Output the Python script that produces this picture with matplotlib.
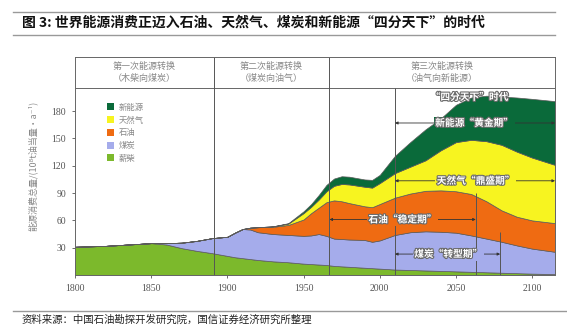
import matplotlib
matplotlib.use('Agg')
import matplotlib.pyplot as plt
import matplotlib.patheffects as pe
from matplotlib.patches import Patch
from matplotlib.lines import Line2D

plt.rcParams['font.family'] = ['Noto Sans CJK SC', 'DejaVu Sans']

# ---------------- data ----------------
years = [1800, 1820, 1850, 1860, 1870, 1880, 1890, 1900, 1905, 1910, 1915, 1920,
         1930, 1940, 1950, 1955, 1960, 1965, 1970, 1975, 1980, 1990, 1995, 2000,
         2010, 2020, 2030, 2040, 2050, 2060, 2070, 2080, 2090, 2100, 2115]
wood = [31, 32, 35, 33.5, 29.5, 26.5, 24, 21, 19.5, 18.5, 17.5, 16.5,
        15, 14, 12.5, 12, 11.5, 11, 10, 9.5, 9, 8, 7.5, 7,
        6, 5.5, 5, 4.5, 4, 3.5, 3, 2.5, 2, 1.5, 1]
coal = [0, 0, 0, 1.5, 6, 11, 16.5, 21, 27, 32, 32.5, 30.5,
        30, 30, 30.5, 31.5, 33.5, 32, 30, 30, 30, 30.5, 29, 31,
        38, 41.5, 43, 43, 42.5, 40, 37, 34, 30.5, 27.5, 24.5]
oil = [0, 0, 0, 0, 0, 0, 0, 0, 0, 0, 2, 5.5,
       8, 11, 18, 24.5, 29, 37, 42, 41.5, 40, 37, 38, 40,
       41, 42.5, 44.5, 45.5, 45.5, 45.5, 41, 34.5, 31.5, 31, 31.5]
gas = [0, 0, 0, 0, 0, 0, 0, 0, 0, 0, 0, 0,
       0.5, 1.5, 7, 7, 9, 12, 16, 19, 20.5, 21.5, 21.5, 23,
       27, 29.5, 33.5, 44, 54, 59.5, 66, 72, 71.5, 69, 64]
new_energy = [0, 0, 0, 0, 0, 0, 0, 0, 0, 0, 0, 0,
              0, 0.5, 2, 3, 5, 7, 8, 8.5, 8.5, 8, 8.5, 9,
              19, 27, 34, 35, 41, 46.5, 50, 53, 59.5, 64.5, 70]

series_names = ['薪柴', '煤炭', '石油', '天然气', '新能源']
colors = ['#7cb92c', '#a5aceb', '#ef6b12', '#f7f420', '#0a6a3a']

x_ticks = [1800, 1850, 1900, 1950, 2000, 2050, 2100]
y_ticks = [30, 60, 90, 120, 150, 180]

phase_bounds = [1800, 1891, 1967, 2115]
phase_titles = ['第一次能源转换\n（木柴向煤炭）',
                '第二次能源转换\n（煤炭向油气）',
                '第三次能源转换\n（油气向新能源）']

# arrows: label, y, start year, end year, text year, box colour index
arrow_labels = ['新能源“黄金期”', '天然气“鼎盛期”', '石油“稳定期”', '煤炭“转型期”']
arrow_y = [167, 103.5, 61, 23]
arrow_x0 = [2010, 2010, 1967, 2010]
arrow_x1 = [2115, 2115, 2063, 2079]
arrow_tx = [2062, 2063, 2015, 2045]
arrow_col = [4, 3, 2, 1]

# ---------------- figure ----------------
fig = plt.figure(figsize=(5.67, 3.30), dpi=100)
ax = fig.add_axes([75 / 567, 55 / 330, 480 / 567, 218 / 330])

ax.stackplot(years, wood, coal, oil, gas, new_energy, colors=colors,
             labels=series_names, edgecolor='#5a5a5a', linewidth=0.5)

ax.set_xlim(1800, 2115)
ax.set_ylim(0, 239.5)
header_y = 205.5

ax.set_xticks(x_ticks)
ax.set_yticks(y_ticks)
for lab in ax.get_xticklabels() + ax.get_yticklabels():
    lab.set_fontfamily('Liberation Serif')
ax.tick_params(axis='both', labelsize=7, colors='#555555', labelcolor='#555555',
               length=2.5, width=0.6, direction='out')
ax.tick_params(axis='x', pad=4)
ax.tick_params(axis='y', pad=4)
for sp in ax.spines.values():
    sp.set_color('#666666')
    sp.set_linewidth(0.7)

ax.set_ylabel('能源消费总量/(10⁸t油当量·a⁻¹)', fontsize=6.5, color='#888888', labelpad=10)

# header band
ax.axhline(header_y, color='#666666', lw=0.7)
ax.vlines(phase_bounds[1:3], 0, 239.5, color='#555555', lw=0.7)
for i, t in enumerate(phase_titles):
    xc = (phase_bounds[i] + phase_bounds[i + 1]) / 2
    ax.text(xc, (header_y + 239.5) / 2, t, ha='center', va='center',
            fontsize=6.5, color='#888888', linespacing=1.5)

# inner vertical markers
ax.vlines(2010, 0, header_y, color='#555555', lw=0.7)
ax.vlines(2063, 0, 90, color='#555555', lw=0.7)
ax.vlines(2079, 0, 47, color='#555555', lw=0.7)

# arrows
stroke = [pe.withStroke(linewidth=1.6, foreground='#6a6a6a')]
for lab, y, x0, x1, tx, ci in zip(arrow_labels, arrow_y, arrow_x0, arrow_x1, arrow_tx, arrow_col):
    ax.annotate('', xy=(x1, y), xytext=(x0, y),
                arrowprops=dict(arrowstyle='<|-|>', lw=0.6, color='#333333',
                                mutation_scale=4, shrinkA=0, shrinkB=0))
    ax.text(tx, y, lab, ha='center', va='center', fontsize=7, color='white',
            fontweight='bold', path_effects=stroke,
            bbox=dict(boxstyle='square,pad=0.15', fc=colors[ci], ec='none'))

ax.text(2059, 195.5, '“四分天下”时代', ha='center', va='center', fontsize=7,
        color='white', fontweight='bold', path_effects=stroke)

# legend
handles = [Patch(facecolor=colors[i], edgecolor='none') for i in range(4, -1, -1)]
labels = [series_names[i] for i in range(4, -1, -1)]
leg = ax.legend(handles, labels, loc='upper left', bbox_to_anchor=(0.066, 0.79),
                frameon=False, fontsize=6, handlelength=0.9, handleheight=0.9,
                handletextpad=0.5, labelspacing=0.45, borderpad=0, borderaxespad=0)
for t in leg.get_texts():
    t.set_color('#888888')

# title and source
fig.text(22 / 567, 1 - 23 / 330, '图 3: 世界能源消费正迈入石油、天然气、煤炭和新能源“四分天下”的时代',
         fontsize=10, fontweight='bold', va='center', ha='left', color='#111111')
fig.text(22 / 567, 1 - 320 / 330, '资料来源：中国石油勘探开发研究院，国信证券经济研究所整理',
         fontsize=7.5, va='center', ha='left', color='#222222')
fig.add_artist(Line2D([13 / 567, 555 / 567], [1 - 12 / 330, 1 - 12 / 330], color='#999999', lw=1))
fig.add_artist(Line2D([13 / 567, 555 / 567], [1 - 35 / 330, 1 - 35 / 330], color='#999999', lw=1))
fig.add_artist(Line2D([13 / 567, 1.0], [1 - 311 / 330, 1 - 311 / 330], color='#999999', lw=1))

fig.savefig('out.png', dpi=100)
